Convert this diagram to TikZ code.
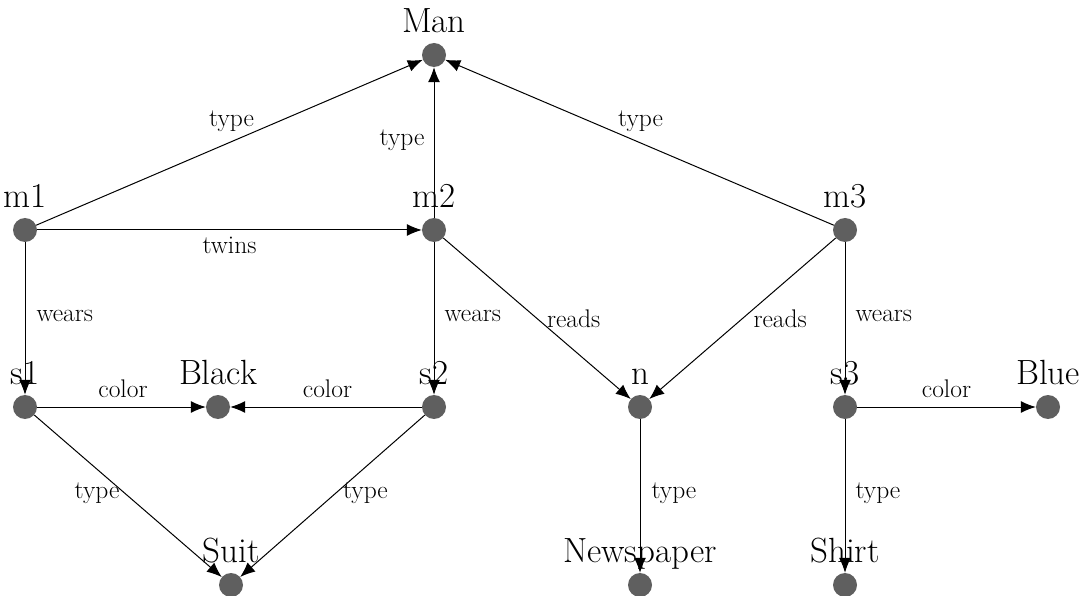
\documentclass[tikz,border=0pt]{standalone}
\usetikzlibrary{arrows.meta}
\definecolor{vgray}{HTML}{5F5F5F}
\begin{document}
\begin{tikzpicture}[x=1pt,y=-1pt,
  vtx/.style={circle,fill=vgray,minimum size=24pt,inner sep=0pt},
  lbl/.style={inner sep=0pt,anchor=base,font=\fontsize{35}{37}\selectfont},
  elbl/.style={inner sep=0pt,font=\fontsize{25.5}{27}\selectfont},
  arr/.style={draw=black,line width=1pt,-{Latex[length=15pt,width=12pt]}}]
\useasboundingbox (0,0) rectangle (1088,596);
% vertices
\node[vtx] (Man) at (434,55) {};
\node[vtx] (m1) at (25,230) {};
\node[vtx] (m2) at (434,230) {};
\node[vtx] (m3) at (845,230) {};
\node[vtx] (s1) at (25,407) {};
\node[vtx] (Black) at (218,407) {};
\node[vtx] (s2) at (434,407) {};
\node[vtx] (n) at (640,407) {};
\node[vtx] (s3) at (845,407) {};
\node[vtx] (Blue) at (1048,407) {};
\node[vtx] (Suit) at (231,585) {};
\node[vtx] (News) at (640,585) {};
\node[vtx] (Shirt) at (845,585) {};
% vertex labels
\node[lbl] (Man-l) at ([yshift=22.5pt]Man.center) {Man};
\node[lbl] (m1-l) at ([yshift=22.5pt]m1.center) {m1};
\node[lbl] (m2-l) at ([yshift=22.5pt]m2.center) {m2};
\node[lbl] (m3-l) at ([yshift=22.5pt]m3.center) {m3};
\node[lbl] (s1-l) at ([yshift=22.5pt]s1.center) {s1};
\node[lbl] (Black-l) at ([yshift=22.5pt]Black.center) {Black};
\node[lbl] (s2-l) at ([yshift=22.5pt]s2.center) {s2};
\node[lbl] (n-l) at ([yshift=22.5pt]n.center) {n};
\node[lbl] (s3-l) at ([yshift=22.5pt]s3.center) {s3};
\node[lbl] (Blue-l) at ([yshift=22.5pt]Blue.center) {Blue};
\node[lbl] (Suit-l) at ([yshift=22.5pt]Suit.center) {Suit};
\node[lbl] (News-l) at ([yshift=22.5pt]News.center) {Newspaper};
\node[lbl] (Shirt-l) at ([yshift=22.5pt]Shirt.center) {Shirt};
% edges
\draw[arr] (m1) -- node[elbl,anchor=base,xshift=2pt,yshift=15.5pt] {type} (Man);
\draw[arr] (m2) -- node[elbl,anchor=base east,xshift=-9pt,yshift=-3.5pt] {type} (Man);
\draw[arr] (m3) -- node[elbl,anchor=base,xshift=1pt,yshift=15.5pt] {type} (Man);
\draw[arr] (m1) -- node[elbl,anchor=base,yshift=-24pt] {twins} (m2);
\draw[arr] (m1) -- node[elbl,anchor=base west,xshift=11pt,yshift=-3.5pt] {wears} (s1);
\draw[arr] (m2) -- node[elbl,anchor=base west,xshift=10pt,yshift=-3.5pt] {wears} (s2);
\draw[arr] (m3) -- node[elbl,anchor=base west,xshift=10pt,yshift=-3.5pt] {wears} (s3);
\draw[arr] (m2) -- node[elbl,anchor=base west,xshift=9.5pt,yshift=-8.5pt] {reads} (n);
\draw[arr] (m3) -- node[elbl,anchor=base west,xshift=10.5pt,yshift=-8.5pt] {reads} (n);
\draw[arr] (s1) -- node[elbl,anchor=base,xshift=1.5pt,yshift=10pt] {color} (Black);
\draw[arr] (s2) -- node[elbl,anchor=base,xshift=1.5pt,yshift=10pt] {color} (Black);
\draw[arr] (s3) -- node[elbl,anchor=base,yshift=10pt] {color} (Blue);
\draw[arr] (s1) -- node[elbl,anchor=base east,xshift=-8pt,yshift=-2pt] {type} (Suit);
\draw[arr] (s2) -- node[elbl,anchor=base west,xshift=10pt,yshift=-2pt] {type} (Suit);
\draw[arr] (n) -- node[elbl,anchor=base west,xshift=11pt,yshift=-2pt] {type} (News);
\draw[arr] (s3) -- node[elbl,anchor=base west,xshift=10pt,yshift=-2pt] {type} (Shirt);
\end{tikzpicture}
\end{document}
